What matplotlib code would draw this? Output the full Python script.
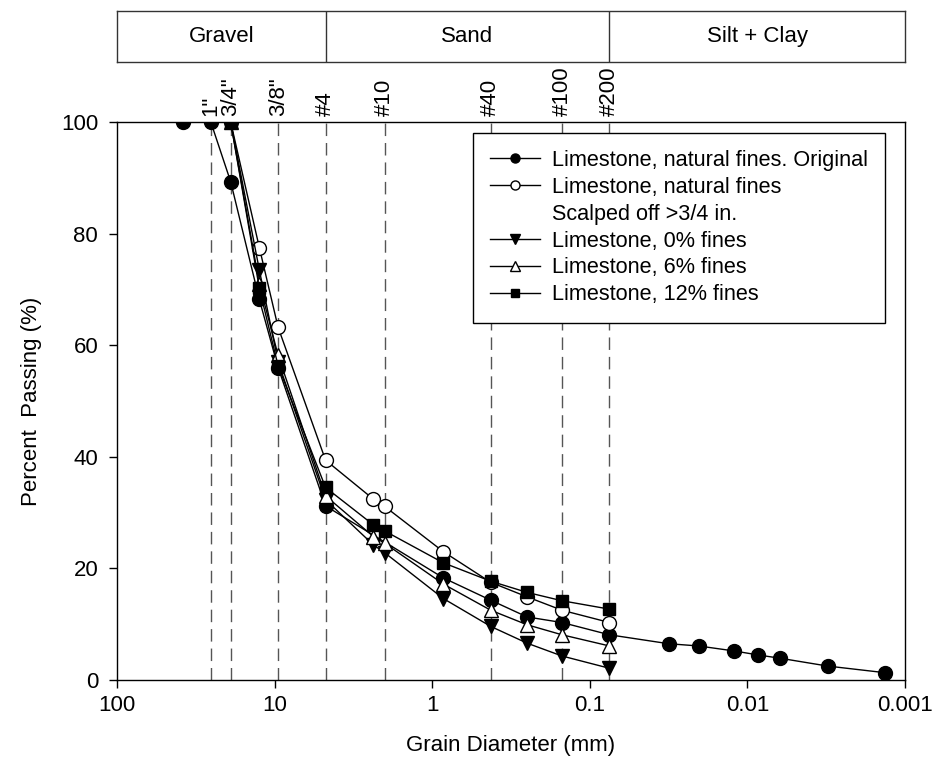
import matplotlib
matplotlib.use("Agg")
import matplotlib.pyplot as plt
from matplotlib.lines import Line2D
from matplotlib.transforms import blended_transform_factory

plt.rcParams['font.family'] = ['Liberation Sans', 'DejaVu Sans']
plt.rcParams['font.size'] = 16

# Sieve openings (mm) and their names
sieve_sizes = [25.4, 19.0, 9.5, 4.75, 2.0, 0.425, 0.15, 0.075]
sieve_names = ['1"', '3/4"', '3/8"', '#4', '#10', '#40', '#100', '#200']

# Soil classification bands (boundaries in mm)
band_edges = [100, 4.75, 0.075, 0.001]
band_names = ['Gravel', 'Sand', 'Silt + Clay']

# Gradation curves: grain diameter (mm) and percent passing
orig_d = [38.1, 25.4, 19.0, 12.5, 9.5, 4.75, 0.85, 0.425, 0.25, 0.15, 0.075,
          0.0316, 0.0204, 0.0121, 0.0086, 0.0062, 0.0031, 0.00133]
orig_p = [100, 100, 89.3, 68.2, 56.0, 31.2, 18.3, 14.3, 11.3, 10.3, 8.1,
          6.5, 6.1, 5.2, 4.5, 3.9, 2.5, 1.3]

lab_d = [19.0, 12.5, 9.5, 4.75, 2.36, 2.0, 0.85, 0.425, 0.25, 0.15, 0.075]
scalped_p = [100, 77.5, 63.2, 39.4, 32.4, 31.1, 23.0, 17.5, 14.9, 12.5, 10.3]
fines0_p = [100, 73.5, 57.0, 32.3, 24.2, 22.8, 14.6, 9.6, 6.6, 4.3, 2.1]
fines6_p = [100, 71.0, 58.2, 33.0, 25.7, 24.5, 17.2, 12.5, 9.9, 8.1, 6.1]
fines12_p = [100, 70.2, 56.3, 34.5, 27.8, 26.7, 21.0, 17.7, 15.7, 14.2, 12.7]

x_ticks = [100, 10, 1, 0.1, 0.01, 0.001]
x_tick_labels = ['100', '10', '1', '0.1', '0.01', '0.001']
y_ticks = [0, 20, 40, 60, 80, 100]

W, H = 936, 763
fig = plt.figure(figsize=(W / 100, H / 100), dpi=100)

ax_l, ax_r, ax_t, ax_b = 117, 905, 122, 680
ax = fig.add_axes([ax_l / W, 1 - ax_b / H, (ax_r - ax_l) / W, (ax_b - ax_t) / H])
ax.set_xscale('log')
ax.set_xlim(100, 0.001)
ax.set_ylim(0, 100)

# Sieve reference lines
for d in sieve_sizes:
    ax.plot([d, d], [0, 100], color='#555555', lw=1.0, dashes=(9, 5), zorder=1)

trans = blended_transform_factory(ax.transData, ax.transAxes)
for d, name in zip(sieve_sizes, sieve_names):
    ax.text(d, 1.011, name, transform=trans, rotation=90, ha='center',
            va='bottom', fontsize=16)

common = dict(color='black', lw=1.0, markeredgecolor='black', markeredgewidth=1.0, zorder=3)
ax.plot(orig_d, orig_p, marker='o', ms=10, markerfacecolor='black', **common)
ax.plot(lab_d, scalped_p, marker='o', ms=10, markerfacecolor='white', **common)
ax.plot(lab_d, fines0_p, marker='v', ms=10, markerfacecolor='black', **common)
ax.plot(lab_d, fines6_p, marker='^', ms=10, markerfacecolor='white', **common)
ax.plot(lab_d, fines12_p, marker='s', ms=8.5, markerfacecolor='black', **common)

ax.set_xticks(x_ticks)
ax.set_xticklabels(x_tick_labels)
ax.xaxis.set_minor_locator(matplotlib.ticker.NullLocator())
ax.set_yticks(y_ticks)
ax.tick_params(direction='out', length=5.5, width=1, labelsize=16)
ax.tick_params(axis='x', pad=5)
ax.tick_params(axis='y', pad=8)
for s in ax.spines.values():
    s.set_linewidth(1.0)
ax.set_xlabel('Grain Diameter (mm)', fontsize=16, labelpad=14)
ax.set_ylabel('Percent  Passing (%)', fontsize=16, labelpad=14)

handles = [
    Line2D([], [], color='black', lw=1, marker='o', ms=6.5, mfc='black', mec='black'),
    Line2D([], [], color='black', lw=1, marker='o', ms=6.5, mfc='white', mec='black'),
    Line2D([], [], linestyle='none', marker=None),
    Line2D([], [], color='black', lw=1, marker='v', ms=7, mfc='black', mec='black'),
    Line2D([], [], color='black', lw=1, marker='^', ms=7, mfc='white', mec='black'),
    Line2D([], [], color='black', lw=1, marker='s', ms=6, mfc='black', mec='black'),
]
labels = ['Limestone, natural fines. Original', 'Limestone, natural fines',
          'Scalped off >3/4 in.', 'Limestone, 0% fines', 'Limestone, 6% fines',
          'Limestone, 12% fines']
leg = ax.legend(handles, labels, loc='upper right',
                bbox_to_anchor=((885 - ax_l) / (ax_r - ax_l), (ax_b - 132.7) / (ax_b - ax_t)),
                borderaxespad=0, frameon=True, fancybox=False, edgecolor='black',
                framealpha=1, fontsize=15.6, handlelength=2.3, handletextpad=0.55,
                labelspacing=0.27, borderpad=0.8)
leg.get_frame().set_linewidth(1.0)

# Classification band above the plot
bx_t, bx_b = 11, 62
bax = fig.add_axes([ax_l / W, 1 - bx_b / H, (ax_r - ax_l) / W, (bx_b - bx_t) / H])
bax.set_xscale('log')
bax.set_xlim(100, 0.001)
bax.set_ylim(0, 1)
bax.set_xticks([])
bax.set_yticks([])
bax.xaxis.set_minor_locator(matplotlib.ticker.NullLocator())
for s in bax.spines.values():
    s.set_linewidth(1.0)
    s.set_color('#333333')
for e in band_edges[1:-1]:
    bax.plot([e, e], [0, 1], color='#333333', lw=1.0)
for lo, hi, name in zip(band_edges[:-1], band_edges[1:], band_names):
    bax.text((lo * hi) ** 0.5, 0.5, name, ha='center', va='center', fontsize=16)

fig.savefig('out.png', dpi=100)
